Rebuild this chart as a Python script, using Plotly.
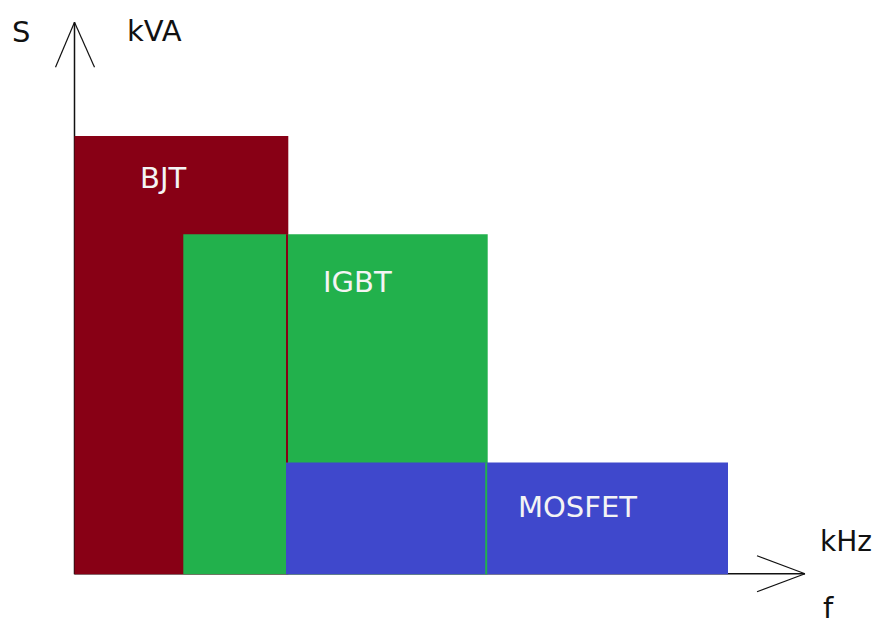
import plotly.graph_objects as go

# ---- data (arbitrary units: 1 unit of f / S) ----
devices = ["BJT", "IGBT", "MOSFET"]
f_min = [0.0, 108.8, 211.5]      # kHz (relative)
f_max = [213.8, 413.2, 653.5]    # kHz (relative)
s_max = [438.3, 340.0, 111.8]    # kVA (relative)
colors = ["#880015", "#22B14C", "#3F48CC"]

# page body has an 8px margin, so the figure is drawn 8px in from the corner
W, H = 874, 617
X0_PX, Y0_PX = 66.5, 566.3   # origin position inside the figure

fig = go.Figure()

xr = [-X0_PX, W - X0_PX]
yr = [-(H - Y0_PX), Y0_PX]

shapes = []
for i, d in enumerate(devices):
    shapes.append(dict(type="rect", xref="x", yref="y",
                       x0=f_min[i], x1=f_max[i], y0=0, y1=s_max[i],
                       fillcolor=colors[i], line=dict(width=0), layer="above"))

# thin edge lines seen in the original drawing
shapes.append(dict(type="line", xref="x", yref="y",
                   x0=f_max[0] - 1.3, x1=f_max[0] - 1.3, y0=s_max[2], y1=s_max[1],
                   line=dict(color=colors[0], width=2), layer="above"))
shapes.append(dict(type="line", xref="x", yref="y",
                   x0=f_max[1] - 1.5, x1=f_max[1] - 1.5, y0=0, y1=s_max[2],
                   line=dict(color=colors[1], width=2), layer="above"))

# axes with open arrow heads
ax_col = "#111111"
y_top = 552.0
x_end = 730.5
shapes += [
    dict(type="line", xref="x", yref="y", x0=0, x1=0, y0=0, y1=y_top,
         line=dict(color=ax_col, width=1.5), layer="below"),
    dict(type="line", xref="x", yref="y", x0=0, x1=-19, y0=y_top, y1=y_top - 45,
         line=dict(color=ax_col, width=1.2)),
    dict(type="line", xref="x", yref="y", x0=0, x1=20, y0=y_top, y1=y_top - 45,
         line=dict(color=ax_col, width=1.2)),
    dict(type="line", xref="x", yref="y", x0=0, x1=x_end, y0=0.5, y1=0.5,
         line=dict(color=ax_col, width=1.5), layer="below"),
    dict(type="line", xref="x", yref="y", x0=x_end, x1=x_end - 48, y0=0.5, y1=18.5,
         line=dict(color=ax_col, width=1.2)),
    dict(type="line", xref="x", yref="y", x0=x_end, x1=x_end - 48, y0=0.5, y1=-17.5,
         line=dict(color=ax_col, width=1.2)),
]

font_fam = "DejaVu Sans"
label_pos = [(88, 396), (283, 292), (503, 67)]
annotations = []
for i, d in enumerate(devices):
    annotations.append(dict(x=label_pos[i][0], y=label_pos[i][1], xref="x", yref="y",
                            text=d, showarrow=False,
                            font=dict(family=font_fam, size=29, color="#f4f4f4")))

axis_labels = [("S", -54, 542, 29), ("kVA", 80, 543, 29),
               ("kHz", 771, 33, 28), ("f", 754, -34, 29)]
for t, x, y, sz in axis_labels:
    annotations.append(dict(x=x, y=y, xref="x", yref="y", text=t, showarrow=False,
                            font=dict(family=font_fam, size=sz, color=ax_col)))

fig.add_trace(go.Scatter(x=[None], y=[None], showlegend=False))

fig.update_layout(
    width=W, height=H,
    margin=dict(l=0, r=0, t=0, b=0),
    paper_bgcolor="white", plot_bgcolor="white",
    shapes=shapes, annotations=annotations,
    xaxis=dict(range=xr, visible=False, fixedrange=True),
    yaxis=dict(range=yr, visible=False, fixedrange=True),
    showlegend=False,
)

fig.write_html("out.html")
